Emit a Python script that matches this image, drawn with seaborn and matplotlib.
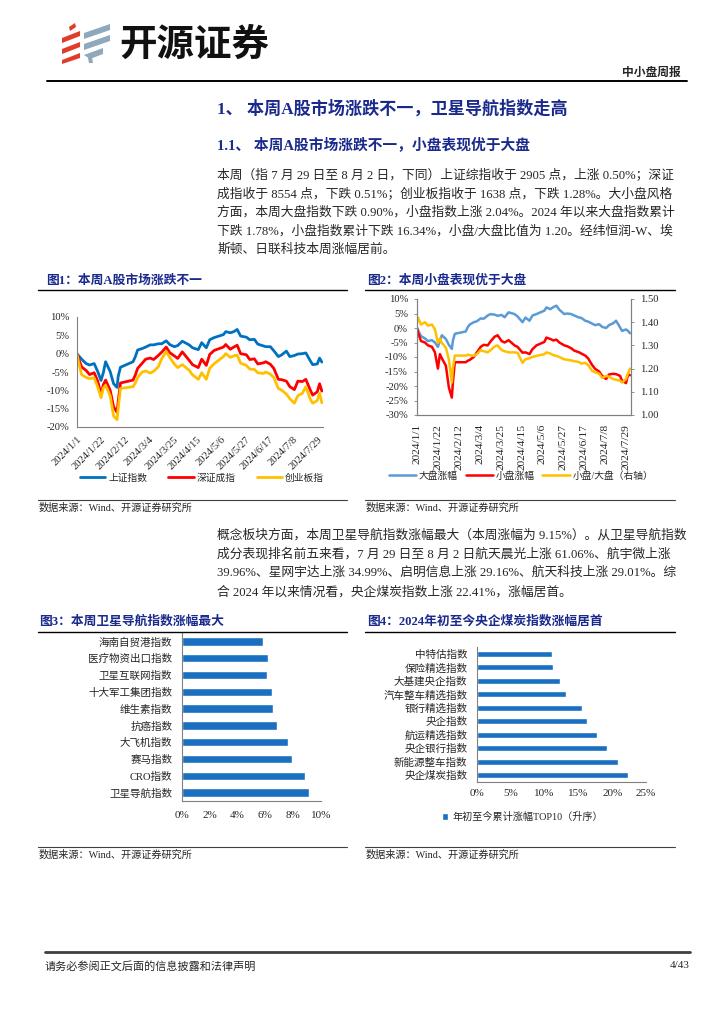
import pandas as pd
import matplotlib
matplotlib.use("Agg")
import matplotlib.pyplot as plt
import seaborn as sns
from matplotlib.lines import Line2D
from matplotlib.patches import Polygon
from matplotlib.ticker import PercentFormatter, FormatStrFormatter

# -----------------------------
# DATA
# -----------------------------
dates = ["2024-01-01", "2024-01-02", "2024-01-05", "2024-01-09", "2024-01-12", "2024-01-16",
         "2024-01-19", "2024-01-22", "2024-01-24", "2024-01-26", "2024-01-30",
         "2024-02-02", "2024-02-05", "2024-02-06", "2024-02-08", "2024-02-19", "2024-02-21",
         "2024-02-23", "2024-02-27",
         "2024-03-01", "2024-03-05", "2024-03-08", "2024-03-12", "2024-03-15", "2024-03-19",
         "2024-03-22", "2024-03-26", "2024-03-29",
         "2024-04-02", "2024-04-08", "2024-04-11", "2024-04-16", "2024-04-19", "2024-04-23",
         "2024-04-26", "2024-04-30",
         "2024-05-08", "2024-05-10", "2024-05-14", "2024-05-17", "2024-05-20", "2024-05-23",
         "2024-05-28", "2024-05-31",
         "2024-06-04", "2024-06-07", "2024-06-12", "2024-06-14", "2024-06-18", "2024-06-21",
         "2024-06-25", "2024-06-28",
         "2024-07-02", "2024-07-05", "2024-07-09", "2024-07-12", "2024-07-16", "2024-07-19",
         "2024-07-23", "2024-07-25", "2024-07-29", "2024-07-31",
         "2024-08-02"]

# fig 1: cumulative change since 2024/1/1 (%)
sh_index = [0, -0.4, -1.5, -2.7, -3.1, -2.7, -4.8, -7.3, -5.2, -2.2, -4.9,
            -8.2, -9.2, -6.2, -3.7, -2.2, -0.8, 1.0, 1.4,
            1.8, 2.4, 2.4, 2.7, 2.7, 3.5, 2.5, 1.9, 2.2,
            3.4, 2.4, 1.6, 1.1, 3.0, 1.6, 3.8, 4.4,
            5.2, 6.0, 5.7, 6.0, 6.6, 4.8, 4.5, 3.8,
            3.9, 2.6, 2.1, 1.9, 1.9, 0.8, -0.8, -0.3,
            0.7, -0.8, -0.5, -0.1, 0.0, 0.2, -2.0, -3.0, -2.8, -1.2,
            -2.3]
sz_index = [0, -1.0, -3.6, -4.6, -5.7, -5.2, -7.4, -11.0, -8.5, -7.2, -10.0,
            -14.5, -16.0, -13.0, -8.0, -7.2, -5.8, -4.0, -2.6,
            -1.5, -1.2, -1.6, -0.5, 0.4, 1.8, 0.3, -0.6, -1.3,
            0.5, -1.8, -3.0, -3.8, -1.5, -3.2, -0.2, 0.9,
            1.8, 2.5, 1.2, 1.8, 2.3, 0.0, -0.3, -1.6,
            -1.4, -2.8, -2.5, -2.2, -2.9, -4.0, -7.0, -7.1,
            -7.5, -9.0, -9.8, -7.5, -7.6, -7.0, -10.0, -11.3, -10.4, -8.2,
            -10.2]
cy_index = [0, -1.8, -5.7, -6.5, -6.8, -6.6, -9.0, -12.0, -9.4, -8.6, -11.5,
            -17.0, -18.0, -15.0, -9.5, -9.0, -8.0, -6.5, -5.0,
            -4.7, -5.3, -4.8, -3.6, -1.4, 0.6, -1.0, -2.8, -3.8,
            -3.0, -4.5, -5.8, -7.0, -5.2, -7.0, -4.0, -2.7,
            -0.8, 0.0, -1.0, -0.6, -0.4, -2.6, -3.2, -4.2,
            -4.3, -5.2, -5.4, -5.0, -5.6, -6.5, -9.5, -10.0,
            -11.0, -12.3, -13.5, -11.5, -10.8, -9.0, -12.5, -13.5, -12.8, -10.8,
            -13.4]

# fig 2: large cap / small cap change (%), small/large ratio (right axis)
large_cap = [0, -0.7, -2.8, -3.6, -4.5, -4.2, -5.0, -6.5, -4.5, -2.5, -3.8,
             -5.8, -7.2, -4.5, -2.0, -1.2, 0.3, 1.2, 2.0,
             2.3, 3.3, 3.2, 4.3, 4.8, 4.6, 4.2, 4.5, 3.7,
             5.4, 4.8, 4.0, 2.0, 3.6, 2.5, 4.3, 4.8,
             6.0, 7.1, 6.5, 7.2, 7.7, 6.3, 4.8, 5.0,
             4.8, 4.3, 3.6, 3.5, 2.5, 2.2, 1.5, 1.0,
             1.3, 0.4, 0.0, 1.0, 1.6, 2.5, 0.2, -1.0, -0.5, -1.0,
             -1.8]
small_cap = [0, -1.5, -4.5, -5.0, -6.0, -6.5, -8.4, -14.0, -9.0, -10.5, -13.0,
             -20.5, -24.0, -19.0, -11.8, -11.8, -11.3, -11.0, -10.0,
             -8.5, -6.5, -5.8, -6.0, -4.6, -3.0, -2.5, -4.5, -5.0,
             -4.2, -6.0, -6.5, -8.5, -8.4, -9.0, -7.3, -6.0,
             -4.8, -3.3, -3.8, -4.3, -4.0, -5.0, -6.0, -6.3,
             -7.0, -7.8, -8.4, -8.8, -9.5, -10.5, -12.8, -14.1,
             -15.0, -16.5, -17.6, -16.0, -15.8, -15.9, -16.5, -18.2, -19.0, -16.0,
             -16.3]
ratio = [1.40, 1.42, 1.39, 1.40, 1.385, 1.39, 1.37, 1.31, 1.33, 1.31, 1.29,
         1.24, 1.14, 1.20, 1.256, 1.256, 1.26, 1.258, 1.255,
         1.262, 1.28, 1.275, 1.27, 1.28, 1.295, 1.30, 1.28, 1.275,
         1.27, 1.27, 1.268, 1.225, 1.24, 1.245, 1.25, 1.255,
         1.262, 1.27, 1.265, 1.258, 1.255, 1.25, 1.24, 1.238,
         1.235, 1.232, 1.228, 1.222, 1.225, 1.215, 1.19, 1.184,
         1.178, 1.16, 1.168, 1.165, 1.155, 1.152, 1.148, 1.14, 1.155, 1.18,
         1.20]

tick_dates = ["2024-01-01", "2024-01-22", "2024-02-12", "2024-03-04", "2024-03-25", "2024-04-15",
              "2024-05-06", "2024-05-27", "2024-06-17", "2024-07-08", "2024-07-29"]
tick_labels = ["2024/1/1", "2024/1/22", "2024/2/12", "2024/3/4", "2024/3/25", "2024/4/15",
               "2024/5/6", "2024/5/27", "2024/6/17", "2024/7/8", "2024/7/29"]

# fig 3: weekly change of concept indices (%)
week_names = ["海南自贸港指数", "医疗物资出口指数", "卫星互联网指数", "十大军工集团指数", "维生素指数",
              "抗癌指数", "大飞机指数", "赛马指数", "CRO指数", "卫星导航指数"]
week_vals = [5.80, 6.17, 6.15, 6.50, 6.57, 6.83, 7.60, 7.89, 8.87, 9.15]

# fig 4: YTD change top 10 (%)
ytd_names = ["中特估指数", "保险精选指数", "大基建央企指数", "汽车整车精选指数", "银行精选指数",
             "央企指数", "航运精选指数", "央企银行指数", "新能源整车指数", "央企煤炭指数"]
ytd_vals = [11.1, 11.3, 12.3, 13.2, 15.5, 16.2, 17.7, 19.3, 20.9, 22.41]
ytd_label = "年初至今累计涨幅TOP10（升序）"

# page text
section_title = "1、 本周A股市场涨跌不一，卫星导航指数走高"
sub_title = "1.1、 本周A股市场涨跌不一，小盘表现优于大盘"
para1 = ["本周（指 7 月 29 日至 8 月 2 日，下同）上证综指收于 2905 点，上涨 0.50%；深证",
         "成指收于 8554 点，下跌 0.51%；创业板指收于 1638 点，下跌 1.28%。大小盘风格",
         "方面，本周大盘指数下跌 0.90%，小盘指数上涨 2.04%。2024 年以来大盘指数累计",
         "下跌 1.78%，小盘指数累计下跌 16.34%，小盘/大盘比值为 1.20。经纬恒润-W、埃",
         "斯顿、日联科技本周涨幅居前。"]
para2 = ["概念板块方面，本周卫星导航指数涨幅最大（本周涨幅为 9.15%）。从卫星导航指数",
         "成分表现排名前五来看，7 月 29 日至 8 月 2 日航天晨光上涨 61.06%、航宇微上涨",
         "39.96%、星网宇达上涨 34.99%、启明信息上涨 29.16%、航天科技上涨 29.01%。综",
         "合 2024 年以来情况看，央企煤炭指数上涨 22.41%，涨幅居首。"]
source_text = "数据来源：Wind、开源证券研究所"

# -----------------------------
# STYLE
# -----------------------------
sns.set_style("white")
plt.rcParams['font.family'] = ['Liberation Serif', 'Noto Sans CJK SC']
plt.rcParams['axes.unicode_minus'] = False

NAVY = "#1A2A8C"
BLUE = "#0070C0"
LBLUE = "#5B9BD5"
RED = "#FF0000"
GOLD = "#FFC000"
BAR = "#1A6FC0"
AXC = "#808080"

W, H = 724, 1024
fig = plt.figure(figsize=(7.24, 10.24), dpi=100)


def fx(x):
    return x / W


def fy(y):
    return 1 - y / H


def box(l, t, r, b):
    return [fx(l), fy(b), (r - l) / W, (b - t) / H]


def hline(x0, x1, y, lw=0.8, color="black"):
    fig.add_artist(Line2D([fx(x0), fx(x1)], [fy(y), fy(y)], transform=fig.transFigure,
                          lw=lw, color=color))


# -----------------------------
# HEADER / LOGO
# -----------------------------
red_bits = [[(62, 38), (80, 31), (80, 36), (62, 43)],
            [(62, 49), (80, 42), (80, 47), (62, 54)],
            [(62, 60), (80, 53), (80, 58), (62, 64)],
            [(69, 27), (75, 23), (76, 27), (70, 31)]]
gray_bits = [[(84, 33), (110, 24), (110, 30), (84, 39)],
             [(84, 44), (110, 35), (110, 41), (84, 50)],
             [(84, 55), (103, 48), (103, 54), (90, 59)],
             [(88, 58), (92, 57), (93, 63), (89, 63)]]
for pts in red_bits:
    fig.add_artist(Polygon([(fx(a), fy(b)) for a, b in pts], closed=True,
                           transform=fig.transFigure, color="#E03C2B", lw=0))
for pts in gray_bits:
    fig.add_artist(Polygon([(fx(a), fy(b)) for a, b in pts], closed=True,
                           transform=fig.transFigure, color="#8FA8BC", lw=0))
fig.text(fx(119), fy(44), "开源证券", family="Noto Sans CJK SC", weight="bold",
         fontsize=27, va="center", ha="left", color="#111111")
fig.text(fx(681), fy(73), "中小盘周报", weight="bold", fontsize=8.5, va="center", ha="right")
hline(47, 687, 81, lw=1.4)

# -----------------------------
# BODY TEXT
# -----------------------------
fig.text(fx(217), fy(109), section_title, color=NAVY, weight="bold", fontsize=12.3, va="center")
fig.text(fx(217), fy(145), sub_title, color=NAVY, weight="bold", fontsize=10.6, va="center")
for i, line in enumerate(para1):
    fig.text(fx(217), fy(175 + i * 18.7), line, fontsize=9.2, va="center")
for i, line in enumerate(para2):
    fig.text(fx(217), fy(535 + i * 19), line, fontsize=9.2, va="center")

# figure titles, rules and sources
fig.text(fx(46), fy(281), "图1：本周A股市场涨跌不一", color=NAVY, weight="bold", fontsize=9.2, va="center")
fig.text(fx(367), fy(281), "图2：本周小盘表现优于大盘", color=NAVY, weight="bold", fontsize=9.2, va="center")
fig.text(fx(39), fy(622), "图3：本周卫星导航指数涨幅最大", color=NAVY, weight="bold", fontsize=9.2, va="center")
fig.text(fx(367), fy(622), "图4：2024年初至今央企煤炭指数涨幅居首", color=NAVY, weight="bold", fontsize=9.2, va="center")
for x0, x1 in [(38, 347), (365, 675)]:
    hline(x0, x1, 290, lw=1.0)
    hline(x0, x1, 632, lw=1.0)
    hline(x0, x1, 500, lw=0.8, color="#404040")
    hline(x0, x1, 847, lw=0.8, color="#404040")
    fig.text(fx(x0 + 1), fy(508), source_text, fontsize=7.3, va="center")
    fig.text(fx(x0 + 1), fy(855), source_text, fontsize=7.3, va="center")

# footer
hline(45, 690, 952, lw=2.0, color="#404040")
fig.text(fx(45), fy(966), "请务必参阅正文后面的信息披露和法律声明", fontsize=8, va="center")
fig.text(fx(690), fy(966), "4/43", fontsize=8, va="center", ha="right")

d = pd.to_datetime(dates)
xt = pd.to_datetime(tick_dates)
x_lo, x_hi = pd.Timestamp("2024-01-01"), pd.Timestamp("2024-08-03")

# -----------------------------
# FIG 1: index lines
# -----------------------------
ax1 = fig.add_axes(box(77, 317, 323, 427))
for vals, c, lab in [(sh_index, BLUE, "上证指数"), (sz_index, RED, "深证成指"), (cy_index, GOLD, "创业板指")]:
    sns.lineplot(x=d, y=vals, ax=ax1, color=c, lw=2.0, label=lab, legend=False)
ax1.set_xlim(x_lo, x_hi)
ax1.set_ylim(-20, 10)
ax1.set_yticks(range(-20, 11, 5))
ax1.yaxis.set_major_formatter(PercentFormatter(100, decimals=0))
ax1.set_xticks(xt)
ax1.set_xticklabels(tick_labels, rotation=45, ha="right", rotation_mode="anchor")
ax1.set_xlabel("")
ax1.set_ylabel("")
sns.despine(ax=ax1)
for s in ["left", "bottom"]:
    ax1.spines[s].set_color(AXC)
    ax1.spines[s].set_linewidth(0.8)
ax1.tick_params(direction="out", length=2.5, width=0.6, color=AXC, labelsize=7.6, pad=3)
h1, l1 = ax1.get_legend_handles_labels()
ax1.legend(h1, l1, loc="center", bbox_to_anchor=(fx(202), fy(478)), bbox_transform=fig.transFigure,
           ncol=3, frameon=False, fontsize=7, handlelength=2.6, handletextpad=0.3, columnspacing=2.2)

# -----------------------------
# FIG 2: large vs small cap
# -----------------------------
ax2 = fig.add_axes(box(417, 299, 631, 415))
ax2r = ax2.twinx()
sns.lineplot(x=d, y=large_cap, ax=ax2, color=LBLUE, lw=1.8, label="大盘涨幅", legend=False)
sns.lineplot(x=d, y=small_cap, ax=ax2, color=RED, lw=1.8, label="小盘涨幅", legend=False)
sns.lineplot(x=d, y=ratio, ax=ax2r, color=GOLD, lw=1.8, label="小盘/大盘（右轴）", legend=False)
ax2.set_xlim(x_lo, x_hi)
ax2.set_ylim(-30, 10)
ax2.set_yticks(range(-30, 11, 5))
ax2.yaxis.set_major_formatter(PercentFormatter(100, decimals=0))
ax2r.set_ylim(1.0, 1.5)
ax2r.set_yticks([1.0, 1.1, 1.2, 1.3, 1.4, 1.5])
ax2r.yaxis.set_major_formatter(FormatStrFormatter("%.2f"))
ax2.set_xticks(xt)
ax2.set_xticklabels(tick_labels, rotation=90, ha="center", va="top")
for a in (ax2, ax2r):
    a.set_xlabel("")
    a.set_ylabel("")
    a.spines["top"].set_visible(False)
    for s in ["left", "bottom", "right"]:
        a.spines[s].set_color(AXC)
        a.spines[s].set_linewidth(0.8)
    a.tick_params(direction="out", length=2.5, width=0.6, color=AXC, labelsize=7.6, pad=4)
ax2.tick_params(axis="x", labelsize=8.2)
h2, l2 = ax2.get_legend_handles_labels()
h3, l3 = ax2r.get_legend_handles_labels()
ax2r.legend(h2 + h3, l2 + l3, loc="center", bbox_to_anchor=(fx(521), fy(476)),
            bbox_transform=fig.transFigure, ncol=3, frameon=False, fontsize=7,
            handlelength=2.8, handletextpad=0.3, columnspacing=0.8)

# -----------------------------
# FIG 3 / FIG 4: horizontal bars
# -----------------------------
ax3 = fig.add_axes(box(182, 633, 321, 801))
sns.barplot(x=week_vals, y=week_names, ax=ax3, color=BAR, saturation=1, width=0.5, orient="h")
ax3.set_xlim(0, 10)
ax3.set_xticks(range(0, 11, 2))

ax4 = fig.add_axes(box(477, 647, 646, 782))
sns.barplot(x=ytd_vals, y=ytd_names, ax=ax4, color=BAR, saturation=1, width=0.48, orient="h",
            label=ytd_label)
ax4.set_xlim(0, 25)
ax4.set_xticks(range(0, 26, 5))
ax4.legend(loc="center left", bbox_to_anchor=(fx(433), fy(817)), bbox_transform=fig.transFigure,
           frameon=False, fontsize=7.3, handlelength=0.6, handleheight=0.6, handletextpad=0.4)

for a, xpad in [(ax3, 7), (ax4, 5)]:
    a.set_ylim(9.5, -0.5)
    a.set_yticks([i + 0.5 for i in range(-1, 10)], minor=True)
    a.xaxis.set_major_formatter(PercentFormatter(100, decimals=0))
    a.set_xlabel("")
    a.set_ylabel("")
    sns.despine(ax=a)
    for s in ["left", "bottom"]:
        a.spines[s].set_color(AXC)
        a.spines[s].set_linewidth(0.8)
    a.tick_params(axis="y", which="major", length=0, labelsize=7.6, pad=7)
    a.tick_params(axis="y", which="minor", direction="in", length=2.5, width=0.6, color=AXC)
    a.tick_params(axis="x", direction="in", length=2.5, width=0.6, color=AXC, labelsize=8, pad=xpad)

fig.savefig("out.png", dpi=100)
